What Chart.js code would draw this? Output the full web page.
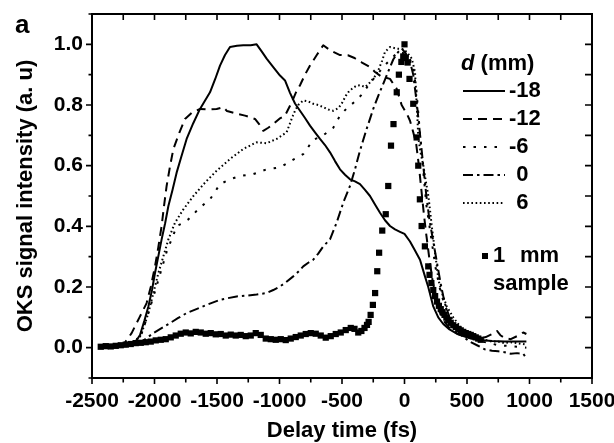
<!DOCTYPE html>
<html>
<head>
<meta charset="utf-8">
<title>OKS signal vs delay time</title>
<script src="https://cdn.jsdelivr.net/npm/chart.js@4.4.1/dist/chart.umd.min.js"></script>
<style>
    html, body { margin: 0; padding: 0; background: #fff; }
    canvas { display: block; }
</style>
</head>
<body>
<canvas id="oksChart" width="614" height="443"></canvas>
<script>
// axis ticks
const xTicks = [-2500, -2000, -1500, -1000, -500, 0, 500, 1000, 1500];
const yTicks = [0, 0.2, 0.4, 0.6, 0.8, 1.0];
const yTickLabels = ["0.0", "0.2", "0.4", "0.6", "0.8", "1.0"];
const xTickMarks = [-2500, -2250, -2000, -1750, -1500, -1250, -1000, -750, -500, -250, 0, 250, 500, 750, 1000, 1250, 1500];
const yTickMarks = [-0.1, 0, 0.1, 0.2, 0.3, 0.4, 0.5, 0.6, 0.7, 0.8, 0.9, 1.0, 1.1];

// legend text
const legendTitle = "(mm)";
const legendLabels = ["-18", "-12", "-6", "0", "6"];
const sampleLabel = ["1", "mm", "sample"];

// d = -18 mm (solid)
const timeM18 = [-2400, -2300, -2200, -2150, -2116, -2080, -2049, -2020, -1996, -1970, -1943, -1915, -1889, -1856, -1823, -1785, -1743, -1690, -1636, -1556, -1515, -1476, -1436, -1396, -1340, -1290, -1230, -1183, -1140, -1103, -1050, -996, -956, -916, -876, -836, -796, -756, -716, -676, -636, -596, -556, -516, -476, -436, -396, -356, -316, -276, -236, -196, -156, -116, -76, -36, 0, 44, 84, 124, 160, 190, 230, 270, 310, 360, 418, 470, 524, 604, 700, 800, 900, 975];
const sigM18 = [0.003, 0.005, 0.01, 0.02, 0.042, 0.09, 0.136, 0.19, 0.246, 0.30, 0.357, 0.41, 0.467, 0.52, 0.577, 0.63, 0.688, 0.74, 0.787, 0.842, 0.885, 0.93, 0.965, 0.991, 0.995, 0.997, 0.997, 1.0, 0.975, 0.953, 0.925, 0.897, 0.881, 0.84, 0.805, 0.781, 0.757, 0.732, 0.71, 0.688, 0.668, 0.644, 0.615, 0.588, 0.57, 0.555, 0.548, 0.539, 0.52, 0.5, 0.472, 0.445, 0.42, 0.401, 0.39, 0.382, 0.375, 0.35, 0.32, 0.29, 0.24, 0.2, 0.136, 0.1, 0.078, 0.06, 0.046, 0.038, 0.031, 0.025, 0.022, 0.02, 0.02, 0.02];

// d = -12 mm (dashed)
const timeM12 = [-2400, -2300, -2240, -2183, -2120, -2063, -2030, -1996, -1970, -1943, -1923, -1903, -1875, -1849, -1800, -1756, -1700, -1636, -1570, -1503, -1449, -1420, -1383, -1330, -1276, -1196, -1160, -1130, -1090, -1050, -1000, -956, -902, -870, -836, -796, -756, -703, -650, -610, -570, -520, -453, -400, -340, -276, -236, -190, -150, -116, -62, -23, 20, 44, 70, 94, 115, 135, 155, 175, 200, 225, 250, 280, 320, 370, 430, 490, 550, 600, 650, 700, 740, 770, 800, 850, 900, 950, 975];
const sigM12 = [0.003, 0.005, 0.015, 0.048, 0.1, 0.147, 0.2, 0.268, 0.33, 0.401, 0.47, 0.533, 0.6, 0.655, 0.71, 0.754, 0.775, 0.787, 0.785, 0.787, 0.793, 0.78, 0.776, 0.77, 0.765, 0.754, 0.735, 0.715, 0.725, 0.737, 0.755, 0.765, 0.809, 0.84, 0.865, 0.9, 0.93, 0.964, 0.997, 0.985, 0.975, 0.965, 0.964, 0.955, 0.94, 0.925, 0.909, 0.895, 0.89, 0.886, 0.853, 0.80, 0.77, 0.748, 0.71, 0.67, 0.6, 0.52, 0.44, 0.37, 0.29, 0.22, 0.17, 0.12, 0.085, 0.06, 0.045, 0.035, 0.03, 0.03, 0.035, 0.045, 0.055, 0.04, 0.032, 0.028, 0.038, 0.05, 0.045];

// d = -6 mm (sparse dots)
const timeM6 = [-2400, -2300, -2200, -2116, -2060, -2000, -1950, -1900, -1850, -1823, -1776, -1729, -1636, -1556, -1476, -1396, -1316, -1210, -1103, -996, -890, -810, -730, -650, -570, -516, -460, -400, -340, -280, -220, -160, -100, -50, 0, 40, 70, 95, 115, 135, 155, 175, 200, 225, 250, 280, 320, 370, 430, 500, 560, 620, 680, 750, 850, 975];
const sigM6 = [0.003, 0.005, 0.012, 0.03, 0.1, 0.18, 0.25, 0.32, 0.37, 0.401, 0.41, 0.423, 0.462, 0.489, 0.539, 0.555, 0.566, 0.572, 0.588, 0.594, 0.62, 0.638, 0.685, 0.70, 0.725, 0.765, 0.79, 0.81, 0.835, 0.87, 0.9, 0.93, 0.955, 0.975, 0.97, 0.955, 0.92, 0.85, 0.75, 0.65, 0.56, 0.47, 0.4, 0.33, 0.26, 0.2, 0.14, 0.1, 0.07, 0.045, 0.03, 0.02, 0.015, 0.008, 0.005, 0.0];

// d = 0 mm (dash-dot)
const time0 = [-2300, -2200, -2100, -2009, -1940, -1876, -1810, -1743, -1660, -1583, -1476, -1343, -1250, -1183, -1103, -1050, -996, -950, -890, -850, -810, -770, -730, -690, -650, -596, -543, -490, -436, -396, -356, -303, -250, -210, -170, -130, -90, -50, -20, 10, 40, 70, 100, 125, 150, 175, 200, 230, 260, 290, 320, 360, 410, 460, 520, 580, 640, 700, 750, 800, 850, 900, 950, 975];
const sig0 = [0.003, 0.005, 0.02, 0.048, 0.065, 0.081, 0.098, 0.114, 0.128, 0.141, 0.158, 0.169, 0.172, 0.175, 0.18, 0.19, 0.202, 0.215, 0.235, 0.25, 0.268, 0.28, 0.29, 0.31, 0.334, 0.357, 0.412, 0.478, 0.533, 0.588, 0.65, 0.721, 0.787, 0.83, 0.87, 0.91, 0.95, 0.975, 0.985, 0.97, 0.95, 0.9, 0.8, 0.7, 0.6, 0.5, 0.42, 0.35, 0.28, 0.21, 0.15, 0.1, 0.065, 0.04, 0.02, 0.008, -0.005, -0.01, -0.012, -0.015, -0.02, -0.018, -0.02, -0.035];

// d = 6 mm (dense dots)
const time6 = [-2400, -2300, -2200, -2116, -2080, -2049, -2009, -1969, -1929, -1889, -1836, -1769, -1689, -1596, -1503, -1396, -1290, -1183, -1103, -1023, -943, -903, -876, -850, -810, -770, -730, -690, -650, -610, -570, -530, -503, -470, -450, -416, -383, -350, -316, -290, -263, -236, -210, -180, -156, -116, -63, -20, 18, 58, 84, 98, 111, 130, 151, 170, 191, 205, 218, 232, 244, 258, 271, 300, 338, 390, 444, 500, 551, 600, 650, 700, 750, 800, 850, 900, 975];
const sig6 = [0.003, 0.005, 0.012, 0.036, 0.075, 0.114, 0.18, 0.246, 0.301, 0.357, 0.412, 0.456, 0.5, 0.544, 0.583, 0.622, 0.655, 0.677, 0.674, 0.688, 0.71, 0.754, 0.781, 0.80, 0.815, 0.812, 0.804, 0.80, 0.793, 0.785, 0.781, 0.79, 0.804, 0.83, 0.842, 0.855, 0.864, 0.865, 0.859, 0.868, 0.881, 0.895, 0.914, 0.945, 0.975, 0.991, 0.986, 0.985, 0.975, 0.953, 0.909, 0.8, 0.69, 0.64, 0.6, 0.55, 0.5, 0.45, 0.401, 0.355, 0.313, 0.27, 0.224, 0.18, 0.136, 0.1, 0.07, 0.05, 0.036, 0.03, 0.025, 0.02, 0.02, 0.015, 0.018, 0.015, 0.01];

// 1 mm sample (squares)
const timeSample = [-2430, -2390, -2350, -2310, -2270, -2230, -2190, -2150, -2110, -2070, -2030, -1990, -1950, -1910, -1870, -1830, -1790, -1750, -1710, -1670, -1630, -1590, -1550, -1510, -1470, -1430, -1390, -1350, -1310, -1270, -1230, -1190, -1150, -1110, -1070, -1030, -990, -950, -910, -870, -830, -790, -750, -710, -670, -630, -590, -550, -510, -470, -430, -400, -370, -345, -320, -300, -287, -271, -253, -235, -218, -203, -178, -150, -130, -108, -88, -62, -45, -25, -10, 0, 10, 25, 40, 70, 97, 110, 123, 137, 163, 190, 200, 215, 230, 245, 260, 275, 290, 305, 320, 335, 350, 370, 390, 410, 430, 450, 470, 490, 510, 530, 550, 570, 590, 610];
const sigSample = [0.003, 0.005, 0.004, 0.006, 0.008, 0.01, 0.012, 0.015, 0.016, 0.018, 0.02, 0.024, 0.026, 0.028, 0.034, 0.04, 0.046, 0.05, 0.047, 0.052, 0.05, 0.046, 0.048, 0.044, 0.045, 0.04, 0.043, 0.04, 0.042, 0.038, 0.04, 0.048, 0.042, 0.03, 0.028, 0.026, 0.028, 0.025, 0.03, 0.035, 0.04, 0.045, 0.048, 0.046, 0.04, 0.033, 0.038, 0.045, 0.05, 0.058, 0.065, 0.062, 0.05, 0.055, 0.065, 0.075, 0.085, 0.108, 0.141, 0.18, 0.252, 0.313, 0.386, 0.44, 0.533, 0.666, 0.737, 0.842, 0.9, 0.942, 0.96, 1.0, 0.955, 0.94, 0.886, 0.804, 0.693, 0.6, 0.489, 0.401, 0.334, 0.268, 0.24, 0.213, 0.19, 0.17, 0.152, 0.138, 0.127, 0.117, 0.108, 0.099, 0.09, 0.082, 0.074, 0.068, 0.062, 0.057, 0.052, 0.048, 0.045, 0.042, 0.038, 0.034, 0.03, 0.026];

const FONT = '"Liberation Sans", Arial, Helvetica, sans-serif';

function toPoints(xs, ys) {
    return xs.map((x, i) => ({ x: x, y: ys[i] }));
}

function lineSet(label, xs, ys, dash) {
    return {
        label: label,
        data: toPoints(xs, ys),
        showLine: true,
        borderColor: "#000",
        borderWidth: 2,
        borderDash: dash,
        borderJoinStyle: "round",
        pointRadius: 0,
        fill: false,
        tension: 0
    };
}

// frame with ticks on all four sides (outward left/bottom, inward top/right)
const axisFramePlugin = {
    id: "axisFrame",
    afterDraw(chart) {
        const { ctx, chartArea: area, scales: { x, y } } = chart;
        ctx.save();
        ctx.strokeStyle = "#000";
        ctx.lineWidth = 2;
        ctx.strokeRect(area.left, area.top, area.right - area.left, area.bottom - area.top);

        ctx.lineWidth = 1.6;
        ctx.beginPath();
        xTickMarks.forEach(v => {
            const px = x.getPixelForValue(v);
            const major = xTicks.includes(v);
            ctx.moveTo(px, area.bottom);
            ctx.lineTo(px, area.bottom + (major ? 6 : 4.5));
            ctx.moveTo(px, area.top);
            ctx.lineTo(px, area.top + 6);
        });
        yTickMarks.forEach(v => {
            const py = y.getPixelForValue(v);
            const major = yTicks.some(t => Math.abs(t - v) < 1e-9);
            ctx.moveTo(area.left, py);
            ctx.lineTo(area.left - (major ? 6 : 3.5), py);
            ctx.moveTo(area.right, py);
            ctx.lineTo(area.right - 7, py);
        });
        ctx.stroke();

        // panel letter
        ctx.fillStyle = "#000";
        ctx.font = "bold 26px " + FONT;
        ctx.textBaseline = "alphabetic";
        ctx.fillText("a", 15, 33);
        ctx.restore();
    }
};

const legendPlugin = {
    id: "dLegend",
    afterDraw(chart) {
        const ctx = chart.ctx;
        ctx.save();
        ctx.fillStyle = "#000";
        ctx.strokeStyle = "#000";
        ctx.textBaseline = "middle";

        ctx.font = "italic bold 22px " + FONT;
        ctx.fillText("d", 461, 64);
        const dWidth = ctx.measureText("d ").width;
        ctx.font = "bold 22px " + FONT;
        ctx.fillText(legendTitle, 461 + dWidth, 64);

        const minusWidth = ctx.measureText("-").width;
        const lines = chart.data.datasets.filter(ds => ds.showLine);
        lines.forEach((ds, k) => {
            const rowY = 91 + k * 28;
            ctx.lineWidth = ds.borderWidth;
            ctx.setLineDash(ds.borderDash || []);
            ctx.beginPath();
            ctx.moveTo(463, rowY);
            ctx.lineTo(505, rowY);
            ctx.stroke();
            ctx.setLineDash([]);
            const label = legendLabels[k];
            const lx = label.startsWith("-") ? 509 : 509 + minusWidth;
            ctx.fillText(label, lx, rowY);
        });

        ctx.fillRect(482, 253, 6, 6);
        ctx.fillText(sampleLabel[0], 493, 256);
        ctx.fillText(sampleLabel[1], 520, 256);
        ctx.fillText(sampleLabel[2], 493, 284);
        ctx.restore();
    }
};

document.addEventListener("DOMContentLoaded", function () {
    const ctx = document.getElementById("oksChart").getContext("2d");

    window.oksChart = new Chart(ctx, {
        type: "scatter",
        data: {
            datasets: [
                {
                    label: "1 mm sample",
                    data: toPoints(timeSample, sigSample),
                    showLine: false,
                    pointStyle: "rect",
                    pointRadius: 4.4,
                    backgroundColor: "#000",
                    borderColor: "#000",
                    borderWidth: 0
                },
                lineSet("-18", timeM18, sigM18, []),
                lineSet("-12", timeM12, sigM12, [9, 6]),
                lineSet("-6", timeM6, sigM6, [2.5, 8]),
                lineSet("0", time0, sig0, [10, 4, 2.5, 4]),
                lineSet("6", time6, sig6, [1.6, 2.6])
            ]
        },
        options: {
            responsive: false,
            animation: false,
            events: [],
            layout: { padding: { top: 14, right: 22, left: 0, bottom: 0 } },
            plugins: {
                legend: { display: false },
                tooltip: { enabled: false }
            },
            scales: {
                x: {
                    type: "linear",
                    min: -2500,
                    max: 1500,
                    afterFit: axis => {
                        axis.height = 65;
                        axis.paddingLeft = 0;
                        axis.paddingRight = 0;
                    },
                    afterBuildTicks: axis => { axis.ticks = xTicks.map(v => ({ value: v })); },
                    grid: { display: false, drawTicks: false },
                    border: { display: false },
                    ticks: {
                        color: "#000",
                        padding: 11,
                        maxRotation: 0,
                        autoSkip: false,
                        font: { family: FONT, size: 21, weight: "bold" },
                        callback: v => String(v)
                    },
                    title: {
                        display: true,
                        text: "Delay time (fs)",
                        color: "#000",
                        font: { family: FONT, size: 22, weight: "bold", lineHeight: 1.1 },
                        padding: { top: 0, bottom: 0 }
                    }
                },
                y: {
                    type: "linear",
                    min: -0.1,
                    max: 1.1,
                    afterFit: axis => {
                        axis.width = 92;
                        axis.paddingTop = 0;
                        axis.paddingBottom = 0;
                    },
                    afterBuildTicks: axis => { axis.ticks = yTicks.map(v => ({ value: v })); },
                    grid: { display: false, drawTicks: false },
                    border: { display: false },
                    ticks: {
                        color: "#000",
                        padding: 9,
                        font: { family: FONT, size: 21, weight: "bold" },
                        callback: v => yTickLabels[yTicks.findIndex(t => Math.abs(t - v) < 1e-9)]
                    },
                    title: {
                        display: true,
                        text: "OKS signal intensity (a. u)",
                        color: "#000",
                        font: { family: FONT, size: 22, weight: "bold" },
                        padding: { top: 13, bottom: 0 }
                    }
                }
            }
        },
        plugins: [axisFramePlugin, legendPlugin]
    });
});
</script>
</body>
</html>
